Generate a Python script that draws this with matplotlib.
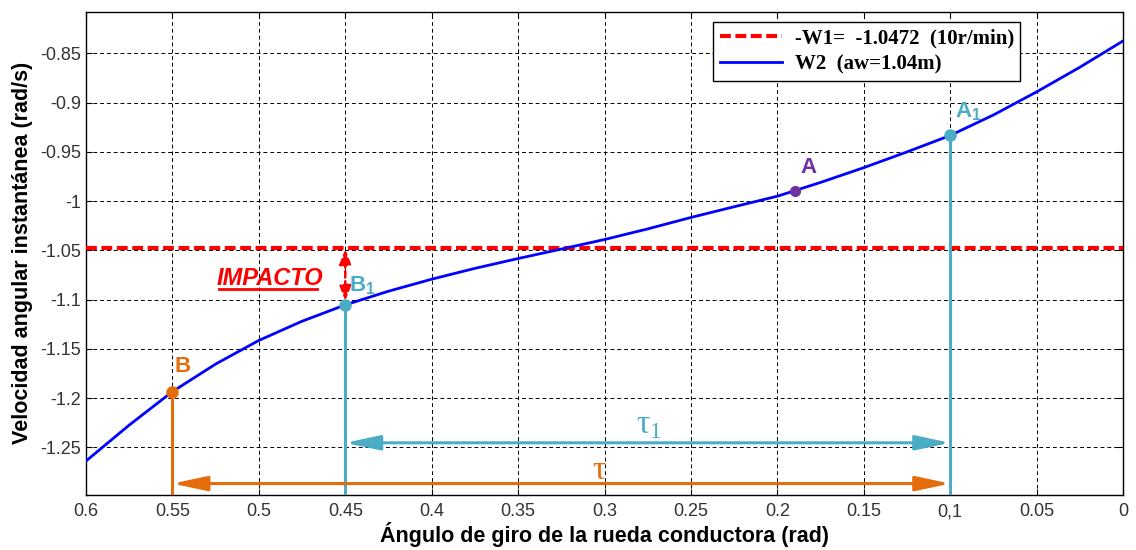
import matplotlib
matplotlib.use("Agg")
import matplotlib.pyplot as plt
from matplotlib.lines import Line2D

# ---------------- data ----------------
angle = [0.600, 0.575, 0.550, 0.525, 0.500, 0.475, 0.450, 0.425, 0.400,
         0.375, 0.350, 0.325, 0.300, 0.275, 0.250, 0.225, 0.200, 0.175,
         0.150, 0.125, 0.100, 0.075, 0.050, 0.025, 0.000]
w2 = [-1.2640, -1.2275, -1.1935, -1.1655, -1.1415, -1.1220, -1.1054, -1.0915,
      -1.0793, -1.0683, -1.0583, -1.0487, -1.0390, -1.0282, -1.0166, -1.0057,
      -0.9950, -0.9810, -0.9660, -0.9500, -0.9333, -0.9125, -0.8890, -0.8640,
      -0.8373]
w1 = -1.0472

pt_A = (0.19, -0.9893)
pt_A1 = (0.1, -0.9333)
pt_B = (0.55, -1.1935)
pt_B1 = (0.45, -1.1054)

tau1_y = -1.2455
tau_y = -1.2869

xticks = [0.6, 0.55, 0.5, 0.45, 0.4, 0.35, 0.3, 0.25, 0.2, 0.15, 0.1, 0.05, 0.0]
xticklabels = ['0.6', '0.55', '0.5', '0.45', '0.4', '0.35', '0.3', '0.25',
               '0.2', '0.15', '0,1', '0.05', '0']
yticks = [-1.25, -1.2, -1.15, -1.1, -1.05, -1.0, -0.95, -0.9, -0.85]
yticklabels = ['-1.25', '-1.2', '-1.15', '-1.1', '-1.05', '-1', '-0.95',
               '-0.9', '-0.85']

legend_labels = ['-W1=  -1.0472  (10r/min)', 'W2  (aw=1.04m)']
xlabel = 'Ángulo de giro de la rueda conductora (rad)'
ylabel = 'Velocidad angular instantánea (rad/s)'

# ---------------- style ----------------
teal = '#4BACC6'
orange = '#E46C0A'
purple = '#7030A0'
red = '#FF0000'
blue = '#0000FF'

fig = plt.figure(figsize=(11.36, 5.5), dpi=100)
ax = fig.add_axes([0.0757, 0.1, 0.9129, 0.8787])

ax.set_xlim(0.6, 0.0)
ax.set_ylim(-1.2985, -0.8076)

ax.grid(True, color='black', linestyle=(0, (4, 3)), linewidth=0.7)
ax.set_axisbelow(True)

ax.axhline(w1, color=red, lw=3.0, linestyle=(0, (2.6, 1.1)), zorder=3,
           label=legend_labels[0])
ax.plot(angle, w2, color=blue, lw=2.0, zorder=4, label=legend_labels[1],
        solid_joinstyle='round')

ybot = ax.get_ylim()[0]
ax.plot([pt_A1[0], pt_A1[0]], [pt_A1[1], ybot], color=teal, lw=2.2, zorder=5)
ax.plot([pt_B1[0], pt_B1[0]], [pt_B1[1], ybot], color=teal, lw=2.2, zorder=5)
ax.plot([pt_B[0], pt_B[0]], [pt_B[1], ybot], color=orange, lw=2.2, zorder=5)

ax.plot(*pt_A, 'o', color=purple, ms=7, zorder=6)
ax.plot(*pt_A1, 'o', color=teal, ms=8, zorder=6)
ax.plot(*pt_B1, 'o', color=teal, ms=8, zorder=6)
ax.plot(*pt_B, 'o', color=orange, ms=8, zorder=6)

arrow_style = '<|-|>,head_length=1.5,head_width=0.32'
ax.annotate('', xy=(pt_A1[0], tau1_y), xytext=(pt_B1[0], tau1_y),
            arrowprops=dict(arrowstyle=arrow_style, color=teal, lw=2.2,
                            mutation_scale=14, shrinkA=0, shrinkB=0), zorder=5)
ax.annotate('', xy=(pt_A1[0], tau_y), xytext=(pt_B[0], tau_y),
            arrowprops=dict(arrowstyle=arrow_style, color=orange, lw=2.2,
                            mutation_scale=14, shrinkA=0, shrinkB=0), zorder=5)

ax.annotate('', xy=(pt_B1[0], w1 - 0.0015), xytext=(pt_B1[0], pt_B1[1] + 0.004),
            arrowprops=dict(arrowstyle='<|-|>,head_length=0.9,head_width=0.35',
                            color=red, lw=1.8, linestyle=(0, (2.5, 1.5)),
                            mutation_scale=10, shrinkA=0, shrinkB=0), zorder=6)

lab_kw = dict(fontsize=16, fontweight='bold', family='Liberation Sans', zorder=7)
ax.text(0.182, -0.966, 'A', color=purple, ha='center', va='center', **lab_kw)
ax.text(0.097, -0.909, r'A$_{\mathregular{1}}$', color=teal, ha='left',
        va='center', **lab_kw)
ax.text(0.544, -1.168, 'B', color=orange, ha='center', va='center', **lab_kw)
ax.text(0.448, -1.086, r'B$_{\mathregular{1}}$', color=teal, ha='left',
        va='center', **lab_kw)

imp = ax.text(0.4935, -1.079, 'IMPACTO', color=red, ha='center', va='center',
              fontsize=17, fontweight='bold', fontstyle='italic',
              family='Liberation Sans', zorder=7)

ax.text(0.274, -1.228, r'τ$_{\mathregular{1}}$', color=teal, ha='center',
        va='center', fontsize=24, family='Liberation Serif', zorder=7)
ax.text(0.303, -1.2735, 'τ', color=orange, ha='center', va='center',
        fontsize=24, family='Liberation Serif', zorder=7)

ax.set_xticks(xticks)
ax.set_xticklabels(xticklabels)
ax.set_yticks(yticks)
ax.set_yticklabels(yticklabels)
ax.tick_params(direction='in', length=4, width=0.8, top=True, right=True,
               labelsize=13, colors='black')
ax.tick_params(axis='x', pad=6)
ax.tick_params(axis='y', pad=3.5)
for lab in ax.get_xticklabels() + ax.get_yticklabels():
    lab.set_family('Liberation Sans')
    lab.set_color('#333333')
for s in ax.spines.values():
    s.set_linewidth(1.0)

ax.set_xlabel(xlabel, fontsize=15.5, fontweight='bold', family='Liberation Sans',
              labelpad=1)
ax.set_ylabel(ylabel, fontsize=15.5, fontweight='bold', family='Liberation Sans',
              labelpad=5)

leg = ax.legend(loc='upper right', bbox_to_anchor=(0.9007, 0.979),
                prop=dict(family='Liberation Serif', weight='bold', size=15),
                frameon=True, fancybox=False, framealpha=1, edgecolor='black',
                handlelength=3.0, borderpad=0.3, labelspacing=0.3,
                handletextpad=0.6, borderaxespad=0)
leg.get_frame().set_linewidth(1.0)

fig.canvas.draw()
bb = imp.get_window_extent()
fig.add_artist(Line2D([bb.x0 + 2, bb.x1 - 6], [bb.y0 + 1, bb.y0 + 1],
                      transform=None, color=red, lw=2.0))

fig.savefig('out.png', dpi=100)
